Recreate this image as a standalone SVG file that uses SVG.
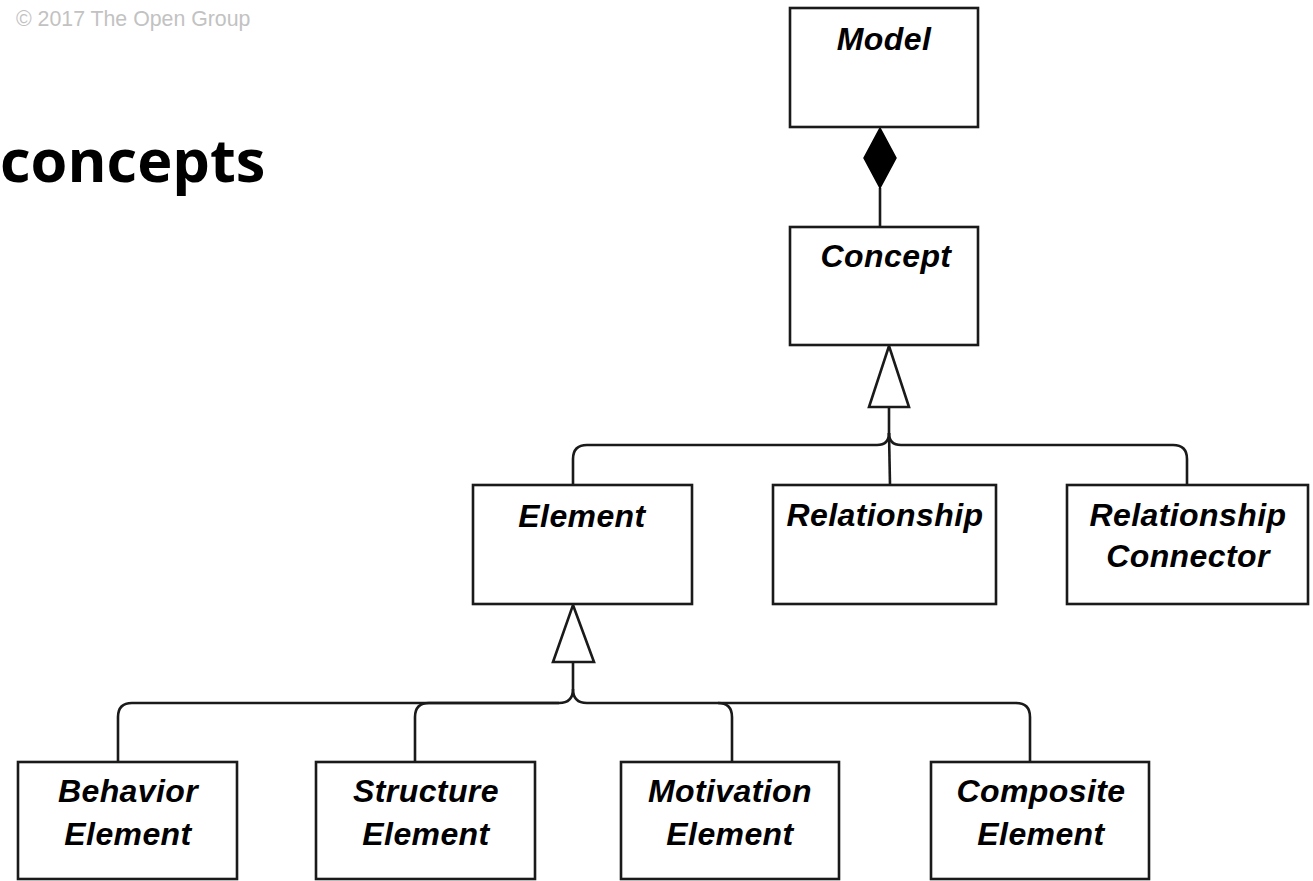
<svg xmlns="http://www.w3.org/2000/svg" width="1313" height="881" viewBox="0 0 1313 881">
<style>
.box{fill:#fff;stroke:#1a1a1a;stroke-width:2.6}
.lbl{font-family:"Liberation Sans",Arial,sans-serif;font-weight:bold;font-style:italic;font-size:32px;letter-spacing:0.4px;fill:#000;text-anchor:middle}
.con{fill:none;stroke:#1a1a1a;stroke-width:2.6}
.gen{fill:#fff;stroke:#1a1a1a;stroke-width:2.6;stroke-linejoin:miter}
</style>
<rect width="1313" height="881" fill="#fff"/>
<text x="16" y="26" font-family="Liberation Sans,Arial,sans-serif" font-size="21.3" fill="#c2c2c2">© 2017 The Open Group</text>
<text x="0" y="182" font-family="Open Sans,Noto Sans,sans-serif" font-weight="bold" font-size="59.5" fill="#000">concepts</text>
<g id="connectors">
<line class="con" x1="880" y1="188" x2="880" y2="227"/>
<polygon points="880,128 896,158 880,188 864,158" fill="#000" stroke="#000" stroke-width="1.5"/>
<path class="con" d="M889,407 V433 Q889,445 877,445 H587 Q573,445 573,459 V485"/>
<path class="con" d="M889,433 Q889,445 901,445 H1173 Q1187,445 1187,459 V485"/>
<line class="con" x1="889" y1="433" x2="890" y2="485"/>
<polygon class="gen" points="889,346 909,407 869,407"/>
<path class="con" d="M573,662 V689 Q573,703 559,703 H132 Q118,703 118,717 V762"/>
<path class="con" d="M559,703 H429 Q415,703 415,717 V762"/>
<path class="con" d="M573,689 Q573,703 587,703 H718 Q732,703 732,717 V762"/>
<path class="con" d="M718,703 H1016 Q1030,703 1030,717 V762"/>
<polygon class="gen" points="573,605 594,662 553,662"/>
</g>
<g id="model"><rect class="box" x="790" y="8" width="188" height="119"/><text class="lbl" x="884" y="50">Model</text></g>
<g id="concept"><rect class="box" x="790" y="227" width="188" height="118"/><text class="lbl" x="886" y="267">Concept</text></g>
<g id="element"><rect class="box" x="473" y="485" width="219" height="119"/><text class="lbl" x="582" y="527">Element</text></g>
<g id="relationship"><rect class="box" x="773" y="485" width="223" height="119"/><text class="lbl" x="885" y="526">Relationship</text></g>
<g id="relationship-connector"><rect class="box" x="1067" y="485" width="241" height="119"/><text class="lbl" x="1188" y="526">Relationship</text><text class="lbl" x="1188" y="567">Connector</text></g>
<g id="behavior-element"><rect class="box" x="18" y="762" width="219" height="117"/><text class="lbl" x="128" y="802">Behavior</text><text class="lbl" x="128" y="845">Element</text></g>
<g id="structure-element"><rect class="box" x="316" y="762" width="219" height="117"/><text class="lbl" x="426" y="802">Structure</text><text class="lbl" x="426" y="845">Element</text></g>
<g id="motivation-element"><rect class="box" x="621" y="762" width="218" height="117"/><text class="lbl" x="730" y="802">Motivation</text><text class="lbl" x="730" y="845">Element</text></g>
<g id="composite-element"><rect class="box" x="931" y="762" width="218" height="117"/><text class="lbl" x="1041" y="802">Composite</text><text class="lbl" x="1041" y="845">Element</text></g>
</svg>
